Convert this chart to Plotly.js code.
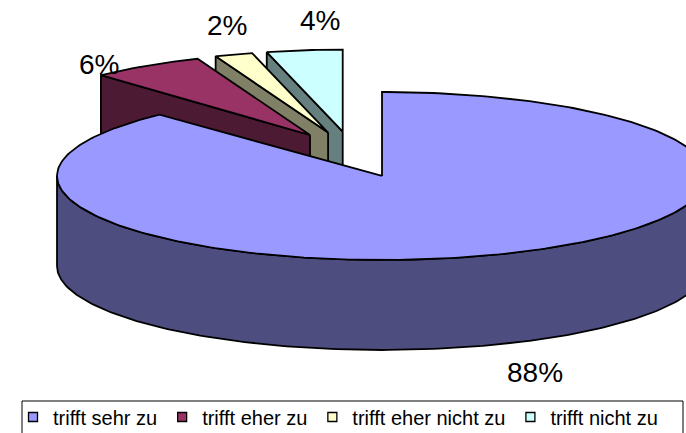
<!DOCTYPE html>
<html><head><meta charset="utf-8">
<script src="https://cdn.plot.ly/plotly-3.0.1.min.js"></script>
<style>html,body{margin:0;padding:0;background:#fff}#chart{width:686px;height:433px}</style>
</head><body><div id="chart"></div>
<script>
// ---- data ----
const categories = ['trifft sehr zu', 'trifft eher zu', 'trifft eher nicht zu', 'trifft nicht zu'];
const values = [88, 6, 2, 4];
const valueLabels = ['88%', '6%', '2%', '4%'];

// ---- style ----
const topColors = ['#9999FF', '#993366', '#FFFFCC', '#CCFFFF'];
const sideColors = ['#4D4D80', '#4D1A33', '#808066', '#668080'];
const G = {cx: 352.7, cy: 154.5, rx: 325, ry: 84, depth: 90, ex: 0.245, ey: 0.275, backScale: 0.94};
const labelShift = [[33.5, 28], [-47, -1], [-7, -29.5], [15.5, -30]];
const FONT = 'Liberation Sans, Arial, sans-serif';

const rad = d => d * Math.PI / 180;
const total = values.reduce((a, b) => a + b, 0);

function pt(s, th, dz) {
  return [s.ax + s.rx * Math.sin(rad(th)), s.ay - s.ry * Math.cos(rad(th)) + dz];
}
function arc(s, a, b, dz) {
  const pts = [];
  const n = Math.max(2, Math.ceil(Math.abs(b - a)));
  for (let k = 0; k <= n; k++) pts.push(pt(s, a + (b - a) * k / n, dz));
  return pts;
}
function poly(points, fill, name) {
  return {
    type: 'scatter', mode: 'lines', fill: 'toself', fillcolor: fill,
    x: points.map(p => p[0]), y: points.map(p => p[1]),
    line: {color: '#000', width: 1.8}, showlegend: false, hoverinfo: 'skip', name: name
  };
}

const slices = [];
let cum = 0;
values.forEach((v, i) => {
  const a1 = cum / total * 360; cum += v;
  const a2 = cum / total * 360;
  const mid = (a1 + a2) / 2;
  const back = Math.cos(rad(mid)) > 0;
  slices.push({
    i, a1, a2, mid,
    ax: G.cx + G.ex * G.rx * Math.sin(rad(mid)),
    ay: G.cy - G.ey * G.ry * Math.cos(rad(mid)),
    rx: G.rx * (back ? G.backScale : 1), ry: G.ry * (back ? 0.976 : 1)
  });
});

const traces = [];
const order = slices.slice().sort((p, q) => Math.cos(rad(q.mid)) - Math.cos(rad(p.mid)));
order.forEach(s => {
  const i = s.i;
  const lo = Math.max(s.a1, 90), hi = Math.min(s.a2, 270);
  if (hi > lo) {
    const pts = arc(s, lo, hi, 0).concat(arc(s, hi, lo, G.depth));
    pts.push(pts[0]);
    traces.push(poly(pts, sideColors[i], categories[i]));
  }
  if (Math.sin(rad(s.a1)) < -1e-6) {
    traces.push(poly([[s.ax, s.ay], pt(s, s.a1, 0), pt(s, s.a1, G.depth), [s.ax, s.ay + G.depth], [s.ax, s.ay]], sideColors[i], categories[i]));
  }
  if (Math.sin(rad(s.a2)) > 1e-6) {
    traces.push(poly([[s.ax, s.ay], pt(s, s.a2, 0), pt(s, s.a2, G.depth), [s.ax, s.ay + G.depth], [s.ax, s.ay]], sideColors[i], categories[i]));
  }
  const top = [[s.ax, s.ay]].concat(arc(s, s.a1, s.a2, 0));
  top.push([s.ax, s.ay]);
  traces.push(poly(top, topColors[i], categories[i]));
});

categories.forEach((c, i) => {
  traces.push({
    type: 'scatter', mode: 'markers', x: [null], y: [null], name: c, hoverinfo: 'skip',
    marker: {symbol: 'square', size: 9, color: topColors[i], line: {color: '#000', width: 1.3}}
  });
});

const annotations = slices.map(s => {
  const front = Math.cos(rad(s.mid)) < 0;
  const p = pt(s, s.mid, front ? G.depth : 0);
  return {
    x: p[0], y: p[1], xref: 'x', yref: 'y', text: valueLabels[s.i], showarrow: false,
    xshift: labelShift[s.i][0], yshift: -labelShift[s.i][1],
    font: {family: FONT, size: 28, color: '#000'}
  };
});

const layout = {
  width: 686, height: 433,
  margin: {l: 0, r: 0, t: 0, b: 0, autoexpand: false},
  paper_bgcolor: '#fff', plot_bgcolor: '#fff',
  xaxis: {range: [0, 686], visible: false, fixedrange: true},
  yaxis: {range: [433, 0], visible: false, fixedrange: true},
  showlegend: true,
  legend: {
    orientation: 'h', x: 13 / 686, y: 1 - 397.5 / 433, xanchor: 'left', yanchor: 'top',
    font: {family: FONT, size: 20, color: '#000'}, itemwidth: 30,
    bgcolor: 'rgba(0,0,0,0)', borderwidth: 0, traceorder: 'normal'
  },
  shapes: [{type: 'rect', xref: 'x', yref: 'y', x0: 22, x1: 683, y0: 401, y1: 445,
            line: {color: '#000', width: 1}, fillcolor: 'rgba(0,0,0,0)'}],
  annotations: annotations
};

Plotly.newPlot('chart', traces, layout, {staticPlot: true, displayModeBar: false});
</script>
</body></html>
